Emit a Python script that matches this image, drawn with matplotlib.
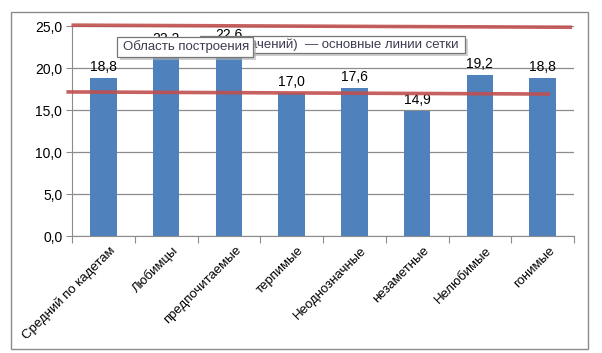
import matplotlib
matplotlib.use("Agg")
import matplotlib.pyplot as plt
from matplotlib.patches import Rectangle
from matplotlib.lines import Line2D
from matplotlib import transforms

categories = ["Средний по кадетам", "Любимцы", "предпочитаемые", "терпимые",
              "Неоднозначные", "незаметные", "Нелюбимые", "гонимые"]
values = [18.8, 22.2, 22.6, 17.0, 17.6, 14.9, 19.2, 18.8]
yticks = [0, 5, 10, 15, 20, 25]

W, H = 602, 353
fig = plt.figure(figsize=(W / 100, H / 100), dpi=100)
plt.rcParams['font.family'] = ['Liberation Sans', 'DejaVu Sans']

def fx(px):
    return px / W

def fy(py):
    return 1 - py / H

# outer chart frame
fig.patches.append(Rectangle((fx(11), fy(349)), fx(588) - fx(11), fy(12) - fy(349),
                             transform=fig.transFigure, fill=False,
                             edgecolor='#8c8c8c', linewidth=1.0))

ax = fig.add_axes([fx(72), fy(236), fx(574) - fx(72), fy(26) - fy(236)])
x = list(range(len(categories)))
ax.bar(x, values, width=0.42, color='#4F81BD', zorder=2)
ax.set_xlim(-0.5, len(categories) - 0.5)
ax.set_ylim(0, 25)
ax.set_yticks(yticks)
ax.set_yticklabels([f"{v:.1f}".replace('.', ',') for v in yticks], fontsize=10)
ax.yaxis.grid(True, color='#8c8c8c', linewidth=0.9, zorder=0)
ax.set_axisbelow(True)
for s in ['top', 'right']:
    ax.spines[s].set_visible(False)
for s in ['left', 'bottom']:
    ax.spines[s].set_color('#8c8c8c')
ax.tick_params(axis='y', length=4, color='#8c8c8c', pad=3)
ax.set_xticks([i - 0.5 for i in range(len(categories) + 1)], minor=False)
ax.set_xticklabels([])
ax.tick_params(axis='x', length=5, color='#8c8c8c')
ax.set_xticks(x, minor=True)
ax.set_xticklabels(categories, minor=True, rotation=45, ha='right',
                   rotation_mode='anchor', fontsize=9.5)
ax.tick_params(axis='x', which='minor', length=0, pad=6)
shift = transforms.ScaledTranslation(6 / 100, 0, fig.dpi_scale_trans)
for lbl in ax.get_xticklabels(minor=True):
    lbl.set_transform(lbl.get_transform() + shift)

for xi, v in zip(x, values):
    ax.text(xi, v + 0.45, f"{v:.1f}".replace('.', ','), ha='center', va='bottom',
            fontsize=10, zorder=3)

# hand-drawn red lines
ax.add_line(Line2D([-0.48, 7.44], [25.1, 24.85], color='#C0504D', linewidth=2.6,
                   alpha=0.9, clip_on=False, zorder=4))
ax.add_line(Line2D([-0.56, 7.09], [17.15, 16.9], color='#C0504D', linewidth=2.6,
                   alpha=0.9, clip_on=False, zorder=4))

# tooltips
def tooltip(x0, y0, x1, y1, z):
    fig.patches.append(Rectangle((fx(x0 + 3), fy(y1 + 3)), fx(x1) - fx(x0), fy(y0) - fy(y1),
                                 transform=fig.transFigure, facecolor='#b0b0b0',
                                 edgecolor='none', alpha=0.6, zorder=z))
    fig.patches.append(Rectangle((fx(x0), fy(y1)), fx(x1) - fx(x0), fy(y0) - fy(y1),
                                 transform=fig.transFigure, facecolor='white',
                                 edgecolor='#767676', linewidth=0.9, zorder=z + 0.1))

tooltip(200, 36, 465, 53, 10)
fig.text(fx(458), fy(44.5), "ачений)  — основные линии сетки", ha='right', va='center',
         fontsize=9.5, color='#3c3c50', zorder=10.2)
tooltip(117, 37, 253, 57, 11)
fig.text(fx(123), fy(47), "Область построения", ha='left', va='center',
         fontsize=9.5, color='#3c3c50', zorder=11.2)

fig.savefig("out.png", dpi=100)
